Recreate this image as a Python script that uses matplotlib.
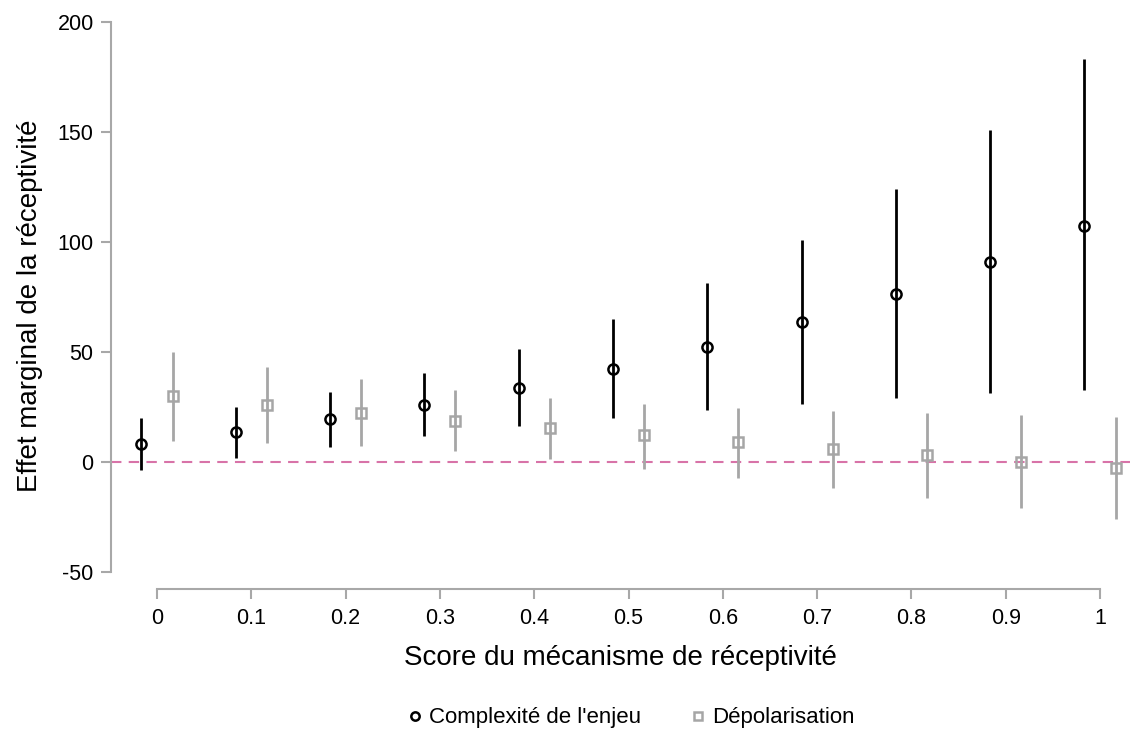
import matplotlib
matplotlib.use("Agg")
import matplotlib.pyplot as plt
from matplotlib.lines import Line2D

plt.rcParams['font.family'] = ['Liberation Sans', 'DejaVu Sans']
plt.rcParams['axes.unicode_minus'] = False

scores = [0, 0.1, 0.2, 0.3, 0.4, 0.5, 0.6, 0.7, 0.8, 0.9, 1.0]

comp_est = [8.2, 13.6, 19.5, 25.9, 33.6, 42.3, 52.3, 63.6, 76.4, 90.9, 107.3]
comp_lo = [-3.6, 1.8, 6.8, 11.8, 16.4, 20.0, 23.6, 26.4, 29.0, 31.4, 32.7]
comp_hi = [20.0, 25.0, 31.8, 40.5, 51.4, 65.0, 81.4, 101.0, 124.0, 151.0, 183.0]

dep_est = [30.0, 25.9, 22.3, 18.6, 15.5, 12.3, 9.1, 5.9, 3.2, 0.0, -2.7]
dep_lo = [9.5, 8.6, 7.3, 5.0, 1.4, -3.2, -7.3, -11.8, -16.4, -21.0, -26.0]
dep_hi = [50.0, 43.2, 37.7, 32.7, 29.0, 26.4, 24.5, 23.2, 22.3, 21.4, 20.5]

labels = ["Complexité de l'enjeu", "Dépolarisation"]
xticks = [0, 0.1, 0.2, 0.3, 0.4, 0.5, 0.6, 0.7, 0.8, 0.9, 1.0]
xticklabels = ["0", "0.1", "0.2", "0.3", "0.4", "0.5", "0.6", "0.7", "0.8", "0.9", "1"]
yticks = [-50, 0, 50, 100, 150, 200]

W, H = 1133, 729
fig = plt.figure(figsize=(W / 100, H / 100), dpi=100)
ax = fig.add_axes([111 / W, 1 - 589 / H, 1019 / W, 567 / H])

off = 0.0165
black = 'black'
grey = '#a6a6a6'

ax.axhline(0, color='#d873a8', lw=1.5, ls=(0, (5, 3.5)), zorder=1)

for x, e, lo, hi in zip(scores, comp_est, comp_lo, comp_hi):
    ax.plot([x - off, x - off], [lo, hi], color=black, lw=2.0, solid_capstyle='butt', zorder=2)
ax.plot([s - off for s in scores], comp_est, ls='none', marker='o', ms=7.3,
        mfc='none', mec=black, mew=1.8, zorder=3)

for x, e, lo, hi in zip(scores, dep_est, dep_lo, dep_hi):
    ax.plot([x + off, x + off], [lo, hi], color=grey, lw=2.0, solid_capstyle='butt', zorder=2)
ax.plot([s + off for s in scores], dep_est, ls='none', marker='s', ms=7.3,
        mfc='none', mec=grey, mew=1.8, zorder=3)

ax.set_xlim(-46 / 943, 1 + 30 / 943)
ax.set_ylim(-50 - 17 / 2.2, 200)

for s in ['top', 'right']:
    ax.spines[s].set_visible(False)
for s in ['left', 'bottom']:
    ax.spines[s].set_color('#a8a8a8')
    ax.spines[s].set_linewidth(1.5)
ax.spines['left'].set_bounds(-50, 200)
ax.spines['bottom'].set_bounds(0, 1)

ax.set_xticks(xticks)
ax.set_xticklabels(xticklabels)
ax.set_yticks(yticks)
ax.tick_params(axis='both', colors='#a8a8a8', length=7.5, width=1.5, labelsize=15.5,
               labelcolor='black')
ax.tick_params(axis='y', pad=5)
ax.tick_params(axis='x', pad=6)

ax.set_xlabel("Score du mécanisme de réceptivité", fontsize=20, labelpad=12)
ax.set_ylabel("Effet marginal de la réceptivité", fontsize=20, labelpad=10)

handles = [
    Line2D([], [], ls='none', marker='o', ms=6, mfc='none', mec=black, mew=1.8),
    Line2D([], [], ls='none', marker='s', ms=6, mfc='none', mec=grey, mew=1.8),
]
fig.legend(handles, labels, loc='center', bbox_to_anchor=(632 / W, 1 - 718 / H), ncol=2,
           frameon=False, fontsize=16, handlelength=0.5, handletextpad=0.4, columnspacing=2.3)

fig.savefig("out.png", dpi=100)
